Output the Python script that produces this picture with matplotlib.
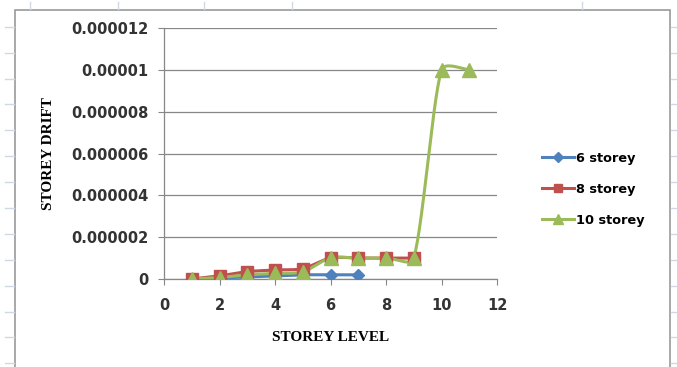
import matplotlib.pyplot as plt
import numpy as np
from matplotlib.lines import Line2D
from matplotlib.patches import Rectangle

# storey level (x) and storey drift values
levels_6 = [1, 2, 3, 4, 5, 6, 7]
drift_6 = [0.0, 0.05e-6, 0.1e-6, 0.15e-6, 0.2e-6, 0.2e-6, 0.2e-6]

levels_8 = [1, 2, 3, 4, 5, 6, 7, 8, 9]
drift_8 = [0.0, 0.15e-6, 0.35e-6, 0.43e-6, 0.5e-6, 1.0e-6, 1.0e-6, 1.0e-6, 1.0e-6]

levels_10 = [1, 2, 3, 4, 5, 6, 7, 8, 9, 10, 11]
drift_10 = [0.0, 0.07e-6, 0.2e-6, 0.27e-6, 0.35e-6, 1.0e-6, 1.0e-6, 1.0e-6, 1.0e-6, 1.0e-5, 1.0e-5]

series_labels = ['6 storey', '8 storey', '10 storey']
x_ticks = [0, 2, 4, 6, 8, 10, 12]
y_ticks = [0, 0.000002, 0.000004, 0.000006, 0.000008, 0.00001, 0.000012]
y_tick_labels = ['0', '0.000002', '0.000004', '0.000006', '0.000008', '0.00001', '0.000012']


def smooth(ax, x, y, n=30):
    # Excel like smoothed line, built in screen space then mapped back
    pts = ax.transData.transform(np.column_stack([x, y]))
    out = []
    t = np.linspace(0, 1, n)[:, None]
    last = len(pts) - 1
    for i in range(last):
        p0 = pts[i]
        p3 = pts[i + 1]
        seg = np.hypot(*(p3 - p0))
        d1 = pts[min(i + 1, last)] - pts[max(i - 1, 0)]
        d2 = pts[min(i + 2, last)] - pts[i]
        l1 = min(np.hypot(*d1) / 6, seg / 3)
        l2 = min(np.hypot(*d2) / 6, seg / 3)
        c1 = p0 + d1 / np.hypot(*d1) * l1
        c2 = p3 - d2 / np.hypot(*d2) * l2
        b = (1 - t) ** 3 * p0 + 3 * (1 - t) ** 2 * t * c1 + 3 * (1 - t) * t ** 2 * c2 + t ** 3 * p3
        out.append(b)
    out = ax.transData.inverted().transform(np.vstack(out))
    return out[:, 0], out[:, 1]


fig = plt.figure(figsize=(6.77, 3.67), dpi=100)
ax = fig.add_axes([164 / 677, 1 - 279 / 367, 333 / 677, 251 / 367])
ax.set_xlim(0, 12)
ax.set_ylim(0, 0.000012)

colors = ['#4F81BD', '#C0504D', '#9BBB59']
markers = ['D', 's', '^']
sizes = [6.5, 8.5, 9.5]
data = [(levels_6, drift_6), (levels_8, drift_8), (levels_10, drift_10)]
for (lx, ly), c, m, ms, lab in zip(data, colors, markers, sizes, series_labels):
    sx, sy = smooth(ax, lx, ly)
    ax.plot(sx, sy, color=c, lw=2.2, zorder=3)
    ax.plot(lx, ly, linestyle='none', marker=m, ms=ms, color=c, zorder=4)
    ax.plot([], [], color=c, lw=2.2, marker=m, ms=ms * 0.75, label=lab)

ax.set_xticks(x_ticks)
ax.set_yticks(y_ticks)
ax.set_yticklabels(y_tick_labels)
ax.grid(axis='y', color='#878787', lw=0.9)
ax.set_axisbelow(True)
for s in ['top', 'right']:
    ax.spines[s].set_visible(False)
for s in ['left', 'bottom']:
    ax.spines[s].set_color('#878787')
    ax.spines[s].set_linewidth(0.9)
ax.tick_params(axis='y', direction='out', length=4, color='#878787', pad=7)
ax.tick_params(axis='x', direction='out', length=4, color='#878787', pad=10)
for lbl in ax.get_xticklabels() + ax.get_yticklabels():
    lbl.set_fontfamily('DejaVu Sans')
    lbl.set_fontweight('bold')
    lbl.set_fontsize(10.5)
    lbl.set_color('#333333')

ax.set_xlabel('STOREY LEVEL', fontfamily='Liberation Serif', fontweight='bold', fontsize=11)
ax.set_ylabel('STOREY DRIFT', fontfamily='Liberation Serif', fontweight='bold', fontsize=11)
ax.xaxis.set_label_coords(0.5, (279 - 331) / 251)
ax.yaxis.set_label_coords((55 - 164) / 333, 0.5)

leg = ax.legend(loc='center left', bbox_to_anchor=(1.1, 0.357), frameon=False,
                handlelength=2.5, labelspacing=1.4, handletextpad=0.1,
                prop={'family': 'DejaVu Sans', 'weight': 'bold', 'size': 9.3})

# chart area border
fig.add_artist(Rectangle((15.5 / 677, -0.1), (670 - 15.5) / 677, 1.1 - 10 / 367,
                         transform=fig.transFigure, fill=False, edgecolor='#9a9a9a', lw=1.2))
# spreadsheet row marks outside the chart
for yy in np.arange(26.7, 367, 25.9):
    fig.add_artist(Line2D([5 / 677, 14 / 677], [1 - yy / 367] * 2, color='#d0d8e4', lw=1))
    fig.add_artist(Line2D([671 / 677, 677 / 677], [1 - yy / 367] * 2, color='#d0d8e4', lw=1))
for xx in [30, 118, 204, 292, 582]:
    fig.add_artist(Line2D([xx / 677] * 2, [1 - 2 / 367, 1 - 9 / 367], color='#d0d8e4', lw=1))

fig.savefig('out.png', dpi=100)
